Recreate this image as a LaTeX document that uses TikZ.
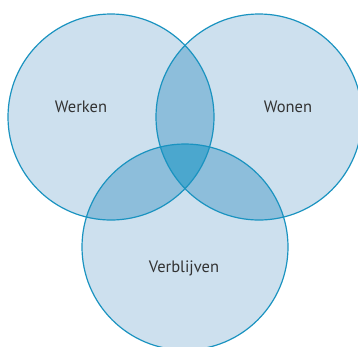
\documentclass[tikz,border=0pt]{standalone}
\usepackage{fontspec}
\setmainfont{PT Sans}
\usetikzlibrary{positioning}
\definecolor{ringblue}{HTML}{1A93C0}
\definecolor{onefill}{HTML}{CDE0EE}
\definecolor{twofill}{HTML}{8DBEDB}
\definecolor{threefill}{HTML}{4BA7CE}
\definecolor{labelgray}{HTML}{333333}
\tikzset{
  ring/.style={draw=ringblue, line width=1.2pt},
  area/.style={text=labelgray, font=\fontsize{16.5}{19}\selectfont}
}
\begin{document}
\begin{tikzpicture}[x=1pt,y=-1pt]
   \useasboundingbox (0,0) rectangle (358,346);
   \clip (0,0) rectangle (358,346);
   \coordinate (cw) at (111,117);
   \coordinate (cz) at (259,117);
   \coordinate (cv) at (185,247);
   % single areas
   \fill[onefill] (cw) circle[radius=103pt] (cz) circle[radius=103pt] (cv) circle[radius=103pt];
   % pairwise overlaps
   \begin{scope}
     \clip (cw) circle[radius=103pt];
     \fill[twofill] (cz) circle[radius=103pt];
     \fill[twofill] (cv) circle[radius=103pt];
   \end{scope}
   \begin{scope}
     \clip (cz) circle[radius=103pt];
     \fill[twofill] (cv) circle[radius=103pt];
   \end{scope}
   % centre
   \begin{scope}
     \clip (cw) circle[radius=103pt];
     \clip (cz) circle[radius=103pt];
     \fill[threefill] (cv) circle[radius=103pt];
   \end{scope}
   \draw[ring] (cw) circle[radius=103pt] (cz) circle[radius=103pt] (cv) circle[radius=103pt];
   \node[area] (werken) at (81,107) {Werken};
   \node[area] (wonen) at (288,107) {Wonen};
   \node[area] (verblijven) at (184,268) {Verblijven};
\end{tikzpicture}
\end{document}
